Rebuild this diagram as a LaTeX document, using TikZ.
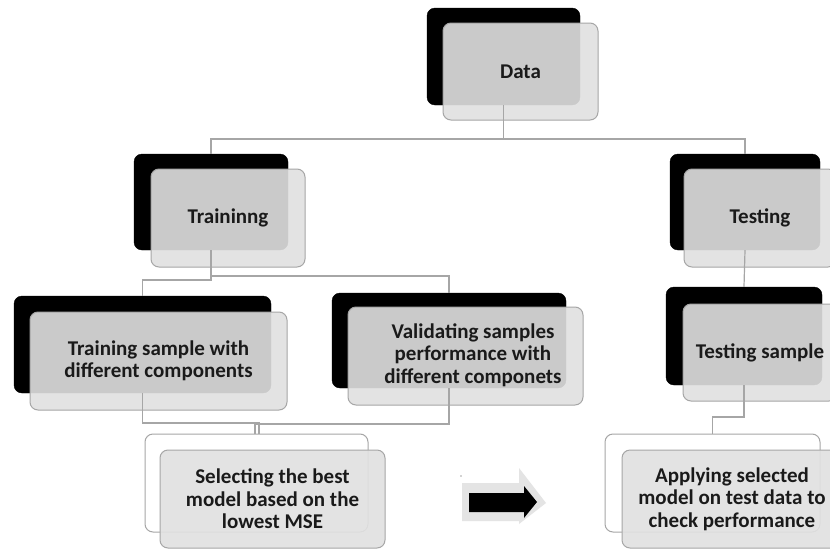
\documentclass[tikz,border=0pt]{standalone}
\usepackage{fontspec}
\setmainfont{Carlito}
\definecolor{linegray}{HTML}{A6A6A6}
\definecolor{frontgray}{RGB}{225,225,225}
\definecolor{txt}{HTML}{1A1A1A}
\definecolor{arrowlight}{HTML}{E4E4E4}
\tikzset{
  boxfont/.style={font=\fontsize{21}{22.5}\selectfont\bfseries, text=txt},
  blackbox/.style={draw=black, fill=black, rounded corners=8pt, inner sep=0pt},
  frontbox/.style={draw=linegray, line width=1pt, fill=frontgray, fill opacity=0.9,
    text opacity=1, rounded corners=8pt, inner sep=0pt, align=center, boxfont},
  backbox/.style={draw=linegray, line width=1pt, fill=white, rounded corners=8pt, inner sep=0pt},
  conn/.style={draw=linegray, line width=1.2pt},
}
\begin{document}
\begin{tikzpicture}[x=1pt,y=-1pt]
\clip (0,0) rectangle (830,549);
\fill[white] (0,0) rectangle (830,549);

% Data
\node[blackbox, minimum width=153pt, minimum height=97pt] (dataB) at (503.5,56.5) {};
\node[frontbox, minimum width=155pt, minimum height=97pt] (dataF) at (520.5,71.5) {Data};

% Trainin(n)g
\node[blackbox, minimum width=154pt, minimum height=96pt] (trainB) at (211,202) {};
\node[frontbox, minimum width=154pt, minimum height=98pt] (trainF) at (228,218) {Traininng};

% Testing
\node[blackbox, minimum width=150pt, minimum height=96pt] (testB) at (745,202) {};
\node[frontbox, minimum width=152pt, minimum height=98pt] (testF) at (760,218) {Testing};

% Training sample
\node[blackbox, minimum width=257pt, minimum height=97pt] (tsB) at (142.5,344.5) {};
\node[frontbox, minimum width=257pt, minimum height=98pt] (tsF) at (158.5,361) {Training sample with\\different components};

% Validating
\node[blackbox, minimum width=234pt, minimum height=95pt] (valB) at (449,340.5) {};
\node[frontbox, minimum width=235pt, minimum height=98pt] (valF) at (465.5,356) {};
\node[boxfont, align=center, inner sep=0pt] (valT) at (473,355) {Validating samples\\performance with\\different componets};

% Testing sample
\node[blackbox, minimum width=156pt, minimum height=98pt] (tsampB) at (744,336) {};
\node[frontbox, minimum width=154pt, minimum height=97pt] (tsampF) at (760,352.5) {Testing sample};

% Selecting
\node[backbox, minimum width=223pt, minimum height=98pt] (selB) at (256.5,483) {};
\node[frontbox, minimum width=225pt, minimum height=98pt] (selF) at (272.5,499) {Selecting the best\\model based on the\\lowest MSE};

% Applying
\node[backbox, minimum width=215pt, minimum height=98pt] (appB) at (712.5,483) {};
\node[frontbox, minimum width=220pt, minimum height=98pt] (appF) at (732,499) {Applying selected\\model on test data to\\check performance};

% connectors
\coordinate (h1) at (0,139);
\coordinate (h2) at (0,280);
\coordinate (h3) at (0,276);
\coordinate (h4) at (0,423);
\coordinate (h5) at (0,424);
\coordinate (h6) at (0,417);
\coordinate (v1) at (259,0);
\coordinate (v2) at (255,0);

\draw[conn] (dataB.south) -- (dataB.south |- h1) -| (trainB.north);
\draw[conn] (dataB.south |- h1) -| (testB.north);
\draw[conn] (trainB.south) -- (trainB.south |- h2) -| (tsB.north);
\draw[conn] (trainB.south |- h3) -| (valB.north);
\draw[conn] (tsB.south) -- (tsB.south |- h4) -- (v1 |- h4) -- (v1 |- selB.north);
\draw[conn] (valB.south) -- (valB.south |- h5) -- (v2 |- h5) -- (v2 |- selB.north);
\draw[conn] (testB.south) -- (tsampB.north);
\draw[conn] (tsampB.south) -- (tsampB.south |- h6) -| (appB.north);

% block arrow
\fill[arrowlight] (462,483) -- (519,483) -- (519,468) -- (546,503) -- (519,524) -- (519,521) -- (462,521) -- cycle;
\fill[black] (469,493) -- (524,493) -- (524,486) -- (537,502) -- (524,518) -- (524,512) -- (469,512) -- cycle;
\fill[linegray] (461,476) circle (0.8pt);
\end{tikzpicture}
\end{document}
